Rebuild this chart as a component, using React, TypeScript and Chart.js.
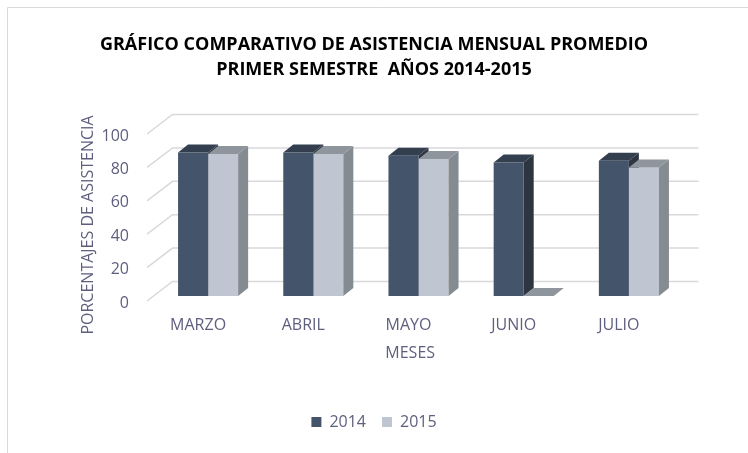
import { useEffect, useRef } from 'react';
import { Chart, registerables } from 'chart.js';

Chart.register(...registerables);

// ---- data ----
const months = ['MARZO', 'ABRIL', 'MAYO', 'JUNIO', 'JULIO'];
const series2014 = [86, 86, 84, 80, 81];
const series2015 = [85, 85, 82, 0, 77];
const seriesNames = ['2014', '2015'];
const yMin = 0;
const yMax = 100;
const yStep = 20;
const titleLines = ['GRÁFICO COMPARATIVO DE ASISTENCIA MENSUAL PROMEDIO', 'PRIMER SEMESTRE  AÑOS 2014-2015'];
const yAxisTitle = 'PORCENTAJES DE ASISTENCIA';
const xAxisTitle = 'MESES';

// ---- styles ----
const FRONT = ['#44546a', '#bfc6d2'];
const TOP = ['#333f4f', '#8f959c'];
const SIDE = ['#2e3541', '#848b91'];
const TEXT = '#5e5e7e';
const GRID = '#d9d9dd';
const FONT = 'Open Sans';

const BAR_DX = 10;
const BAR_DY = -8;
const WALL_DX = 17;
const WALL_DY = -14.5;
const FRONT_DX = -8.5;
const FRONT_DY = 5;

function drawFaces(ctx: CanvasRenderingContext2D, meta: any, i: number) {
  meta.data.forEach((bar: any) => {
    const p = bar.getProps(['x', 'y', 'base', 'width'], true);
    const l = p.x - p.width / 2;
    const r = p.x + p.width / 2;
    const t = p.y;
    const b = p.base;
    ctx.fillStyle = SIDE[i];
    ctx.beginPath();
    ctx.moveTo(r, t);
    ctx.lineTo(r + BAR_DX, t + BAR_DY);
    ctx.lineTo(r + BAR_DX, b + BAR_DY);
    ctx.lineTo(r, b);
    ctx.closePath();
    ctx.fill();
    ctx.fillStyle = TOP[i];
    ctx.beginPath();
    ctx.moveTo(l, t);
    ctx.lineTo(l + BAR_DX, t + BAR_DY);
    ctx.lineTo(r + BAR_DX, t + BAR_DY);
    ctx.lineTo(r, t);
    ctx.closePath();
    ctx.fill();
  });
}

const threeD = {
  id: 'threeD',
  beforeDraw(chart: any) {
    const { ctx } = chart;
    ctx.save();
    ctx.strokeStyle = '#d9d9d9';
    ctx.lineWidth = 1;
    ctx.beginPath();
    ctx.moveTo(7.5, 453);
    ctx.lineTo(7.5, 7.5);
    ctx.lineTo(748, 7.5);
    ctx.stroke();
    ctx.restore();
  },
  beforeDatasetsDraw(chart: any) {
    const { ctx, chartArea } = chart;
    const y = chart.scales.y;
    ctx.save();
    ctx.strokeStyle = GRID;
    ctx.lineWidth = 1.5;
    for (let v = yMin; v <= yMax; v += yStep) {
      const py = y.getPixelForValue(v);
      ctx.beginPath();
      ctx.moveTo(chartArea.left + FRONT_DX, py + FRONT_DY);
      ctx.lineTo(chartArea.left + WALL_DX, py + WALL_DY);
      ctx.lineTo(chartArea.right + WALL_DX, py + WALL_DY);
      ctx.stroke();
    }
    // faces of the rear-left series (2014) go first so the 2015 bars cover them
    drawFaces(ctx, chart.getDatasetMeta(0), 0);
    ctx.restore();
  },
  afterDatasetDraw(chart: any, args: any) {
    if (args.index !== 1) return;
    const { ctx } = chart;
    ctx.save();
    drawFaces(ctx, args.meta, 1);
    ctx.restore();
  },
};

export default function App() {
  const ref = useRef<HTMLCanvasElement>(null);
  useEffect(() => {
    const chart = new Chart(ref.current as HTMLCanvasElement, {
      type: 'bar',
      data: {
        labels: months,
        datasets: [
          { label: seriesNames[0], data: series2014, backgroundColor: FRONT[0] },
          { label: seriesNames[1], data: series2015, backgroundColor: FRONT[1] },
        ],
      },
      plugins: [threeD],
      options: {
        responsive: false,
        animation: false,
        devicePixelRatio: 1,
        layout: { padding: { left: 0, right: 0, top: 0, bottom: 13 } },
        datasets: { bar: { barPercentage: 1, categoryPercentage: 0.571 } },
        font: { family: FONT },
        plugins: {
          tooltip: { enabled: false },
          title: {
            display: true,
            text: titleLines,
            color: '#000000',
            font: { family: FONT, size: 18, weight: 'bold', lineHeight: '25px' },
            padding: { top: 32.5, bottom: 46.5 },
          },
          legend: {
            position: 'bottom',
            labels: {
              boxWidth: 10,
              boxHeight: 10,
              padding: 16,
              color: TEXT,
              font: { family: FONT, size: 16 },
            },
          },
        },
        scales: {
          x: {
            grid: { display: false, drawTicks: false },
            border: { display: false },
            ticks: { color: TEXT, font: { family: FONT, size: 16 }, padding: 20, labelOffset: -10, maxRotation: 0 },
            title: {
              display: true,
              text: xAxisTitle + '    ',
              color: TEXT,
              font: { family: FONT, size: 16 },
              padding: { top: 0, bottom: 35.4 },
            },
            afterFit: (s: any) => { s.height = 102; },
          },
          y: {
            min: yMin,
            max: yMax,
            grid: { display: false, drawTicks: false },
            border: { display: false },
            ticks: { stepSize: yStep, color: TEXT, font: { family: FONT, size: 16 }, padding: 26.5, labelOffset: 7 },
            title: {
              display: true,
              text: yAxisTitle + '      ',
              color: TEXT,
              font: { family: FONT, size: 16 },
              padding: { top: 78.4, bottom: 0 },
            },
            afterFit: (s: any) => { s.width = 155.5; },
          },
          yRight: {
            type: 'linear',
            position: 'right',
            display: true,
            grid: { display: false, drawTicks: false },
            border: { display: false },
            ticks: { display: false },
            afterFit: (s: any) => { s.width = 66.5; },
          },
        },
      } as any,
    });
    return () => chart.destroy();
  }, []);
  return (
    <div style={{ position: 'fixed', left: 0, top: 0, width: 748, height: 453, background: '#ffffff' }}>
      <canvas ref={ref} width={748} height={453} style={{ display: 'block', width: 748, height: 453 }} />
    </div>
  );
}
